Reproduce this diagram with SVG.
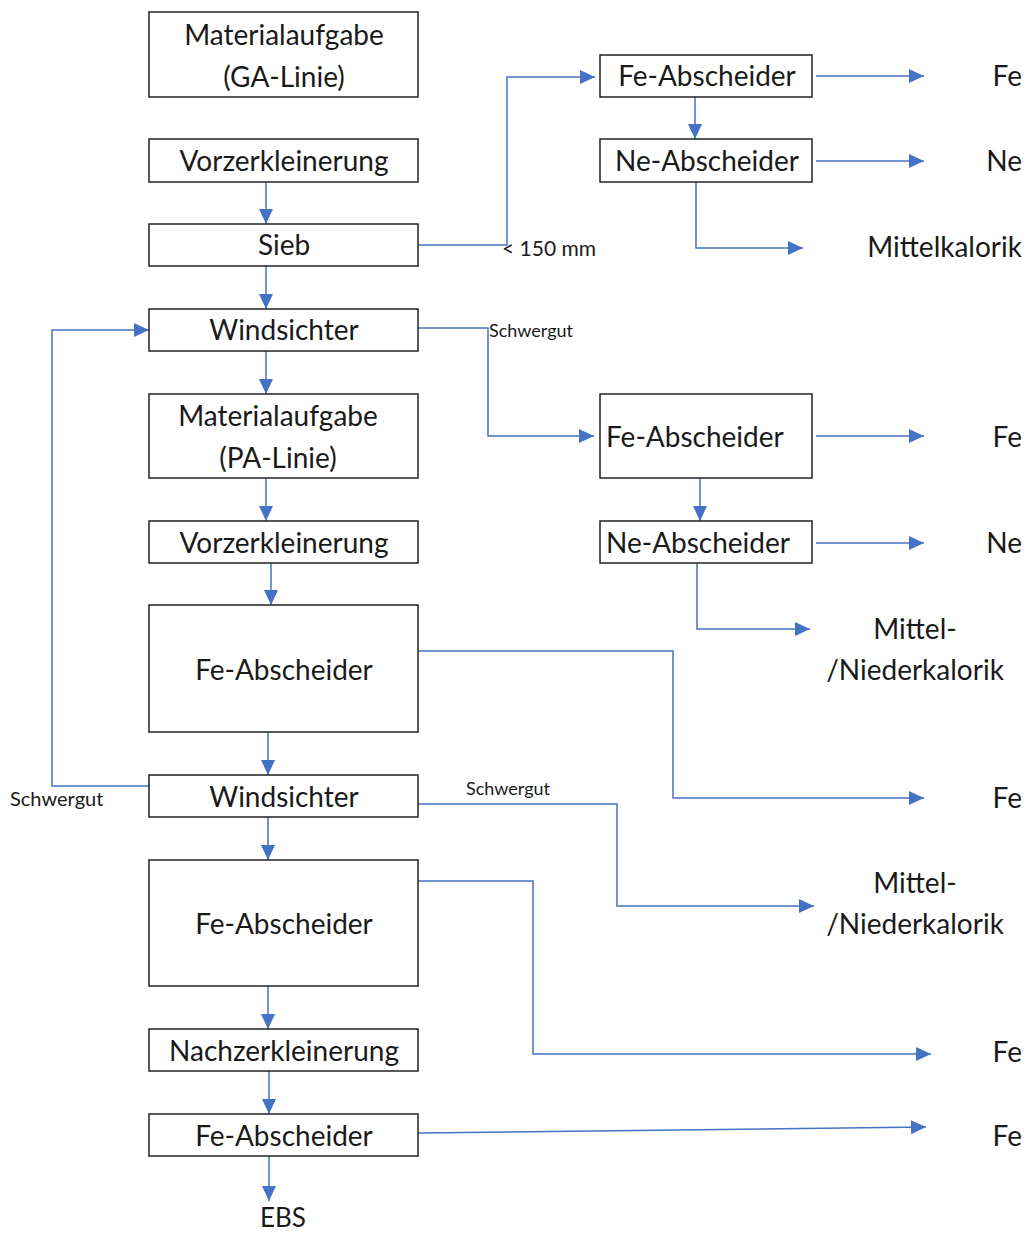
<svg xmlns="http://www.w3.org/2000/svg" width="1030" height="1234" viewBox="0 0 1030 1234">
<defs>
<marker id="ah" markerUnits="userSpaceOnUse" markerWidth="16" markerHeight="14" refX="15" refY="7" orient="auto">
<path d="M0,0 L15,7 L0,14 Z" fill="#4472C4"/>
</marker>
<style>
.box{fill:#fff;stroke:#222;stroke-width:1.5}
.t{font-family:Lato,"Open Sans",sans-serif;font-size:28px;fill:#1a1a1a;text-anchor:middle}
.tl{font-family:Lato,"Open Sans",sans-serif;font-size:28px;fill:#1a1a1a}
.te{font-family:Lato,"Open Sans",sans-serif;font-size:28px;fill:#1a1a1a;text-anchor:end}
.s{font-family:Lato,"Open Sans",sans-serif;font-size:18px;fill:#1a1a1a}
.c{fill:none;stroke:#4472C4;stroke-width:1.5}
</style>
</defs>
<rect width="1030" height="1234" fill="#fff"/>
<g id="connectors">
<path class="c" d="M266,182 V224" marker-end="url(#ah)"/>
<path class="c" d="M266,266 V309" marker-end="url(#ah)"/>
<path class="c" d="M266,351 V394" marker-end="url(#ah)"/>
<path class="c" d="M266,478 V521" marker-end="url(#ah)"/>
<path class="c" d="M271,563 V605" marker-end="url(#ah)"/>
<path class="c" d="M268,732 V775" marker-end="url(#ah)"/>
<path class="c" d="M268,817 V860" marker-end="url(#ah)"/>
<path class="c" d="M268,986 V1029" marker-end="url(#ah)"/>
<path class="c" d="M269,1071 V1114" marker-end="url(#ah)"/>
<path class="c" d="M269,1156 V1201" marker-end="url(#ah)"/>
<path class="c" d="M418,245 H507 V77 H595" marker-end="url(#ah)"/>
<path class="c" d="M695,97 V139" marker-end="url(#ah)"/>
<path class="c" d="M816,76 H924" marker-end="url(#ah)"/>
<path class="c" d="M816,161 H924" marker-end="url(#ah)"/>
<path class="c" d="M696,182 V248 H803" marker-end="url(#ah)"/>
<path class="c" d="M416,328 H488 V436 H594" marker-end="url(#ah)"/>
<path class="c" d="M816,436 H924" marker-end="url(#ah)"/>
<path class="c" d="M700,478 V521" marker-end="url(#ah)"/>
<path class="c" d="M816,543 H924" marker-end="url(#ah)"/>
<path class="c" d="M697,563 V629 H810" marker-end="url(#ah)"/>
<path class="c" d="M418,651 H673 V798 H924" marker-end="url(#ah)"/>
<path class="c" d="M149,786 H52 V330 H149" marker-end="url(#ah)"/>
<path class="c" d="M418,804 H617 V906 H814" marker-end="url(#ah)"/>
<path class="c" d="M418,881 H533 V1054 H931" marker-end="url(#ah)"/>
<path class="c" d="M418,1133 L926,1127" marker-end="url(#ah)"/>
<text class="s" x="502" y="256" style="font-size:21px">&lt; 150 mm</text>
<text class="s" x="489" y="337">Schwergut</text>
<text class="s" x="10" y="806" style="font-size:20px">Schwergut</text>
<text class="s" x="466" y="795">Schwergut</text>
</g>
<g id="n1"><rect class="box" x="149" y="12" width="269" height="85"/><text class="t" x="284" y="45">Materialaufgabe</text><text class="t" x="284" y="87">(GA-Linie)</text></g>
<g id="n2"><rect class="box" x="149" y="139" width="269" height="43"/><text class="t" x="284" y="171">Vorzerkleinerung</text></g>
<g id="n3"><rect class="box" x="149" y="224" width="269" height="42"/><text class="t" x="284" y="255">Sieb</text></g>
<g id="n4"><rect class="box" x="149" y="309" width="269" height="42"/><text class="t" x="284" y="340">Windsichter</text></g>
<g id="n5"><rect class="box" x="149" y="394" width="269" height="84"/><text class="t" x="278" y="426">Materialaufgabe</text><text class="t" x="278" y="468">(PA-Linie)</text></g>
<g id="n6"><rect class="box" x="149" y="521" width="269" height="42"/><text class="t" x="284" y="553">Vorzerkleinerung</text></g>
<g id="n7"><rect class="box" x="149" y="605" width="269" height="127"/><text class="t" x="284" y="680">Fe-Abscheider</text></g>
<g id="n8"><rect class="box" x="149" y="775" width="269" height="42"/><text class="t" x="284" y="807">Windsichter</text></g>
<g id="n9"><rect class="box" x="149" y="860" width="269" height="126"/><text class="t" x="284" y="934">Fe-Abscheider</text></g>
<g id="n10"><rect class="box" x="149" y="1029" width="269" height="42"/><text class="t" x="284" y="1061">Nachzerkleinerung</text></g>
<g id="n11"><rect class="box" x="149" y="1114" width="269" height="42"/><text class="t" x="284" y="1146">Fe-Abscheider</text></g>
<g id="ebs"><text class="t" x="283" y="1227" style="font-size:26px">EBS</text></g>
<g id="r1"><rect class="box" x="600" y="55" width="212" height="42"/><text class="t" x="707" y="86">Fe-Abscheider</text></g>
<g id="r2"><rect class="box" x="600" y="139" width="212" height="43"/><text class="t" x="707" y="171">Ne-Abscheider</text></g>
<g id="r3"><rect class="box" x="600" y="394" width="212" height="84"/><text class="tl" x="606" y="447">Fe-Abscheider</text></g>
<g id="r4"><rect class="box" x="600" y="521" width="212" height="42"/><text class="tl" x="606" y="553">Ne-Abscheider</text></g>
<g id="outputs">
<text class="te" x="1022" y="86">Fe</text>
<text class="te" x="1022" y="171">Ne</text>
<text class="te" x="1022" y="257">Mittelkalorik</text>
<text class="te" x="1022" y="447">Fe</text>
<text class="te" x="1022" y="553">Ne</text>
<text class="t" x="915" y="639">Mittel-</text>
<text class="t" x="915" y="680">/Niederkalorik</text>
<text class="te" x="1022" y="808">Fe</text>
<text class="t" x="915" y="893">Mittel-</text>
<text class="t" x="915" y="934">/Niederkalorik</text>
<text class="te" x="1022" y="1062">Fe</text>
<text class="te" x="1022" y="1146">Fe</text>
</g>
</svg>
